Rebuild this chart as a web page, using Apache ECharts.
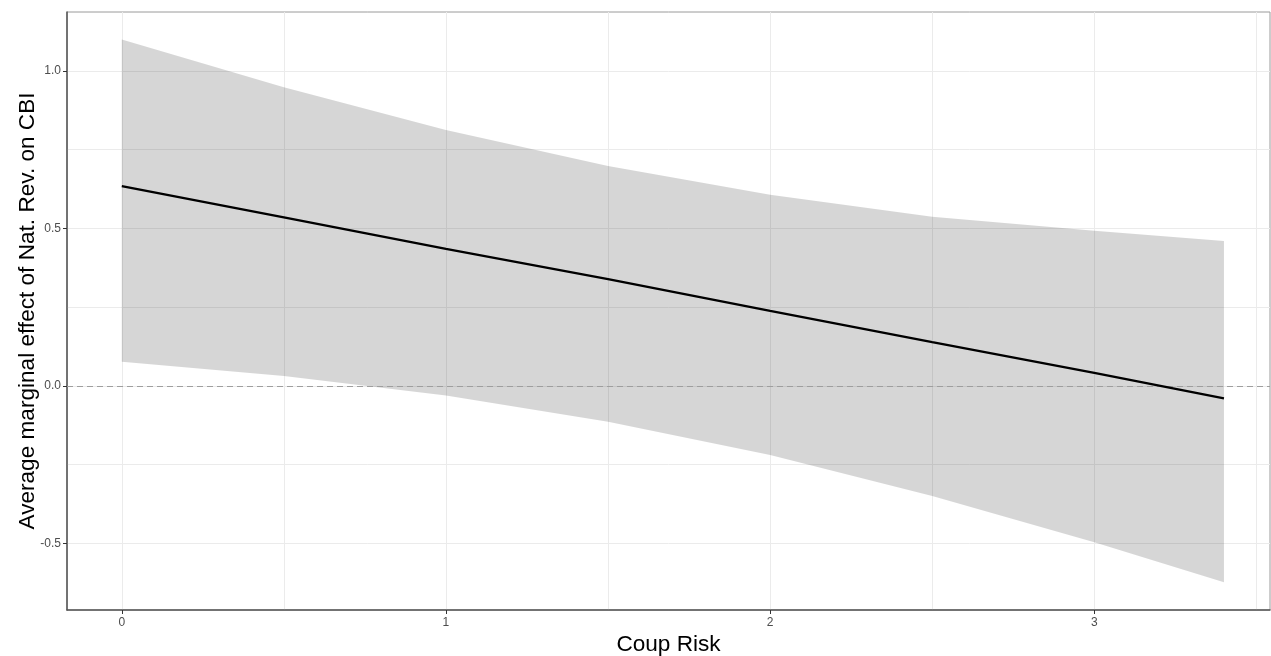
<!DOCTYPE html>
<html>
<head>
<meta charset="utf-8">
<script src="https://cdn.jsdelivr.net/npm/echarts@6/dist/echarts.min.js"></script>
<style>
  html, body { margin: 0; padding: 0; background: #fff; }
  #chart { width: 1271px; height: 656px; }
</style>
</head>
<body>
<div id="chart"></div>
<script>
// values
const coupRisk = [0, 0.5, 1, 1.5, 2, 2.5, 3, 3.4];
const effect = [0.634, 0.535, 0.435, 0.339, 0.238, 0.139, 0.041, -0.040];
const upper = [1.100, 0.948, 0.812, 0.698, 0.607, 0.537, 0.492, 0.460];
const lower = [0.076, 0.031, -0.031, -0.114, -0.220, -0.350, -0.497, -0.624];

const xTicks = [0, 1, 2, 3];
const yTicks = [-0.5, 0, 0.5, 1.0];
const xMinorGrid = [0.5, 1.5, 2.5, 3.5];
const yMinorGrid = [-0.25, 0.25, 0.75];

const FONT = '"Liberation Sans", Arial, sans-serif';
const GRID_COLOR = '#ebebeb';

const chart = echarts.init(document.getElementById('chart'), null, { renderer: 'canvas' });

const option = {
    animation: false,
    backgroundColor: '#fff',
    grid: {
        left: 67, right: 1, top: 12, bottom: 46,
        outerBoundsMode: 'none',
        show: true,
        borderColor: '#9a9a9a',
        borderWidth: 1,
        backgroundColor: 'transparent',
    },
    xAxis: {
        type: 'value',
        min: -0.169,
        max: 3.542,
        splitNumber: 4,
        name: 'Coup Risk',
        nameLocation: 'middle',
        nameGap: 23,
        nameMoveOverlap: false,
        nameTextStyle: { fontFamily: FONT, fontSize: 22.6, color: '#000' },
        axisLine: { show: true, onZero: false, lineStyle: { color: '#555', width: 1.5 } },
        axisTick: { show: true, length: 4, customValues: xTicks, lineStyle: { color: '#333' } },
        axisLabel: {
            customValues: xTicks,
            fontFamily: FONT, fontSize: 12, color: '#4d4d4d', margin: 7,
            formatter: (v) => String(v),
        },
        splitLine: { show: true, lineStyle: { color: GRID_COLOR, width: 1 } },
    },
    yAxis: {
        type: 'value',
        min: -0.712,
        max: 1.187,
        splitNumber: 4,
        name: 'Average marginal effect of Nat. Rev. on CBI',
        nameLocation: 'middle',
        nameGap: 28,
        nameMoveOverlap: false,
        nameTextStyle: { fontFamily: FONT, fontSize: 22.6, color: '#000' },
        axisLine: { show: true, onZero: false, lineStyle: { color: '#555', width: 1.5 } },
        axisTick: { show: true, length: 4, customValues: yTicks, lineStyle: { color: '#333' } },
        axisLabel: {
            customValues: yTicks,
            fontFamily: FONT, fontSize: 12, color: '#4d4d4d', margin: 6,
            formatter: (v) => v.toFixed(1),
        },
        splitLine: { show: true, lineStyle: { color: GRID_COLOR, width: 1 } },
    },
    series: [
        {
            // minor grid lines, kept under the ribbon
            name: 'minorGrid',
            type: 'line',
            data: [],
            z: 0,
            silent: true,
            markLine: {
                z: 0,
                silent: true,
                symbol: 'none',
                animation: false,
                label: { show: false },
                lineStyle: { color: GRID_COLOR, width: 1, type: 'solid' },
                data: xMinorGrid.map((v) => ({ xAxis: v }))
                    .concat(yMinorGrid.map((v) => ({ yAxis: v }))),
            },
        },
        {
            // confidence ribbon
            name: 'ribbon',
            type: 'custom',
            z: 2,
            silent: true,
            data: [[0, 0]],
            renderItem: function (params, api) {
                const pts = [];
                for (let i = 0; i < coupRisk.length; i++) {
                    pts.push(api.coord([coupRisk[i], upper[i]]));
                }
                for (let i = coupRisk.length - 1; i >= 0; i--) {
                    pts.push(api.coord([coupRisk[i], lower[i]]));
                }
                return {
                    type: 'polygon',
                    shape: { points: pts },
                    style: { fill: 'rgba(0,0,0,0.16)', stroke: 'none' },
                };
            },
        },
        {
            name: 'effect',
            type: 'line',
            z: 4,
            showSymbol: false,
            silent: true,
            data: coupRisk.map((x, i) => [x, effect[i]]),
            lineStyle: { color: '#000', width: 2.3 },
            markLine: {
                z: 3,
                silent: true,
                symbol: 'none',
                animation: false,
                label: { show: false },
                lineStyle: { color: '#9e9e9e', width: 1, type: [6, 4] },
                data: [{ yAxis: 0 }],
            },
        },
    ],
};

chart.setOption(option);
</script>
</body>
</html>
